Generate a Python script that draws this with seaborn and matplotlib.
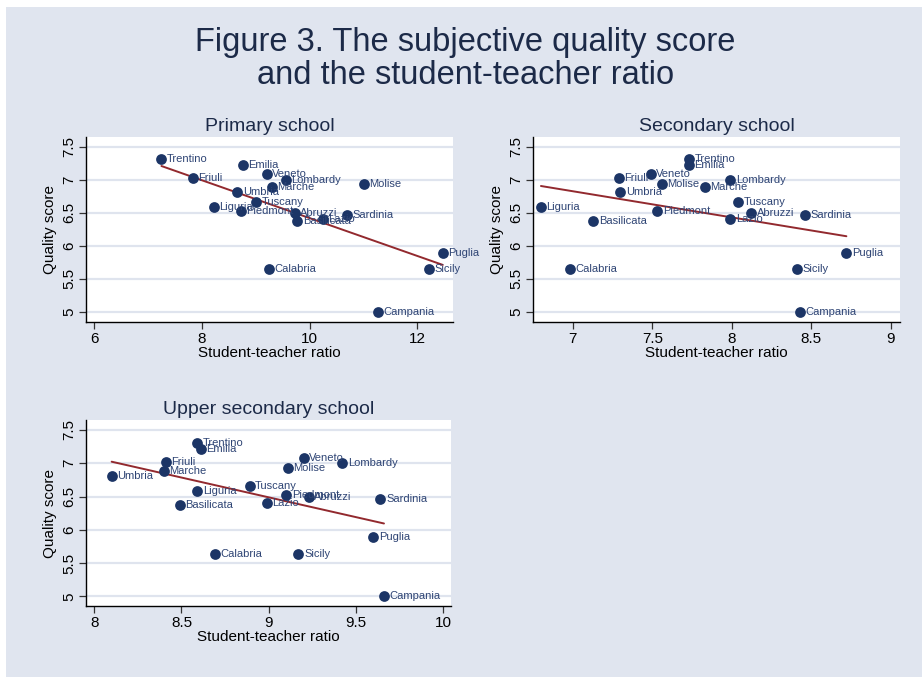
import numpy as np
import pandas as pd
import matplotlib
matplotlib.use("Agg")
import matplotlib.pyplot as plt
from matplotlib.patches import Rectangle
import seaborn as sns

# regions and their subjective quality score (same in every panel)
regions = ['Trentino', 'Emilia', 'Veneto', 'Friuli', 'Lombardy', 'Molise', 'Marche',
           'Umbria', 'Tuscany', 'Liguria', 'Piedmont', 'Abruzzi', 'Sardinia', 'Lazio',
           'Basilicata', 'Puglia', 'Calabria', 'Sicily', 'Campania']
quality = [7.31, 7.22, 7.08, 7.02, 7.00, 6.93, 6.89, 6.81, 6.66, 6.59, 6.52, 6.49,
           6.46, 6.40, 6.37, 5.89, 5.64, 5.64, 5.00]

# student-teacher ratios, in the same order as regions
primary = [7.25, 8.76, 9.20, 7.83, 9.56, 11.00, 9.30, 8.66, 9.00, 8.22, 8.72, 9.72,
           10.69, 10.24, 9.77, 12.47, 9.25, 12.21, 11.26]
secondary = [7.73, 7.73, 7.49, 7.29, 7.99, 7.56, 7.83, 7.30, 8.04, 6.80, 7.53, 8.12,
             8.46, 7.99, 7.13, 8.72, 6.98, 8.41, 8.43]
upper_secondary = [8.59, 8.61, 9.20, 8.41, 9.42, 9.11, 8.40, 8.10, 8.89, 8.59, 9.10, 9.23,
                   9.64, 8.99, 8.49, 9.60, 8.69, 9.17, 9.66]

BG = '#e0e5ef'
NAVY = '#1c3566'
LABEL = '#2e4474'
MAROON = '#92292e'
TEXT = '#1c2a48'

sns.set_style("white")
plt.rcParams['font.family'] = ['Liberation Sans', 'DejaVu Sans']

W, H = 922, 677
fig = plt.figure(figsize=(W / 100, H / 100), dpi=100, facecolor=BG)
# thin white margin on top and left like the exported picture
fig.patches.append(Rectangle((0, 1 - 7 / H), 1, 7 / H, transform=fig.transFigure,
                             facecolor='white', edgecolor='none', zorder=-1))
fig.patches.append(Rectangle((0, 0), 6 / W, 1, transform=fig.transFigure,
                             facecolor='white', edgecolor='none', zorder=-1))

fig.text(0.505, 1 - 42 / H, 'Figure 3. The subjective quality score', ha='center',
         va='center', fontsize=23.5, color=TEXT)
fig.text(0.505, 1 - 75 / H, 'and the student-teacher ratio', ha='center', va='center',
         fontsize=23.5, color=TEXT)


def px_axes(left, top, right, bottom):
    return fig.add_axes([left / W, 1 - bottom / H, (right - left) / W, (bottom - top) / H])


def draw_panel(ax, ratio, title, xlim, xticks, ylim):
    df = pd.DataFrame({'region': regions, 'ratio': ratio, 'quality': quality})
    ax.set_facecolor('white')
    sns.regplot(data=df, x='ratio', y='quality', scatter=False, ci=None, ax=ax,
                line_kws={'color': MAROON, 'lw': 1.4, 'zorder': 3})
    sns.scatterplot(data=df, x='ratio', y='quality', ax=ax, s=60, color=NAVY,
                    edgecolor=NAVY, linewidth=0, zorder=4)
    for _, r in df.iterrows():
        ax.annotate(r['region'], (r['ratio'], r['quality']), xytext=(4, 0),
                    textcoords='offset points', va='center', ha='left',
                    fontsize=8, color=LABEL, zorder=5, annotation_clip=False)
    ax.set_xlim(*xlim)
    ax.set_ylim(*ylim)
    ax.set_xticks(xticks)
    ax.set_xticklabels([f'{t:g}' for t in xticks])
    yt = [5, 5.5, 6, 6.5, 7, 7.5]
    ax.set_yticks(yt)
    ax.set_yticklabels([f'{t:g}' for t in yt], rotation=90, va='center')
    ax.grid(axis='y', color='#dfe4ee', lw=1.6)
    ax.grid(axis='x', visible=False)
    ax.set_axisbelow(True)
    sns.despine(ax=ax)
    for s in ['left', 'bottom']:
        ax.spines[s].set_color('black')
        ax.spines[s].set_linewidth(1.0)
    ax.tick_params(axis='both', which='major', direction='out', length=5, width=0.9,
                   color='#333333', labelsize=11, labelcolor='black', pad=2,
                   left=True, bottom=True)
    ax.set_xlabel('Student-teacher ratio', fontsize=11, color='black', labelpad=0)
    ax.set_ylabel('Quality score', fontsize=11, color='black', labelpad=4)
    ax.set_title(title, fontsize=14, color=TEXT, pad=4)


ax1 = px_axes(86, 137, 453, 322)
draw_panel(ax1, primary, 'Primary school', (5.85, 12.66), [6, 8, 10, 12], (4.844, 7.647))

ax2 = px_axes(533, 137, 900, 322)
draw_panel(ax2, secondary, 'Secondary school', (6.75, 9.057), [7, 7.5, 8, 8.5, 9], (4.844, 7.647))

ax3 = px_axes(86, 420, 451, 606)
draw_panel(ax3, upper_secondary, 'Upper secondary school', (7.953, 10.044),
           [8, 8.5, 9, 9.5, 10], (4.854, 7.65))

fig.savefig('out.png', dpi=100, facecolor=fig.get_facecolor())
